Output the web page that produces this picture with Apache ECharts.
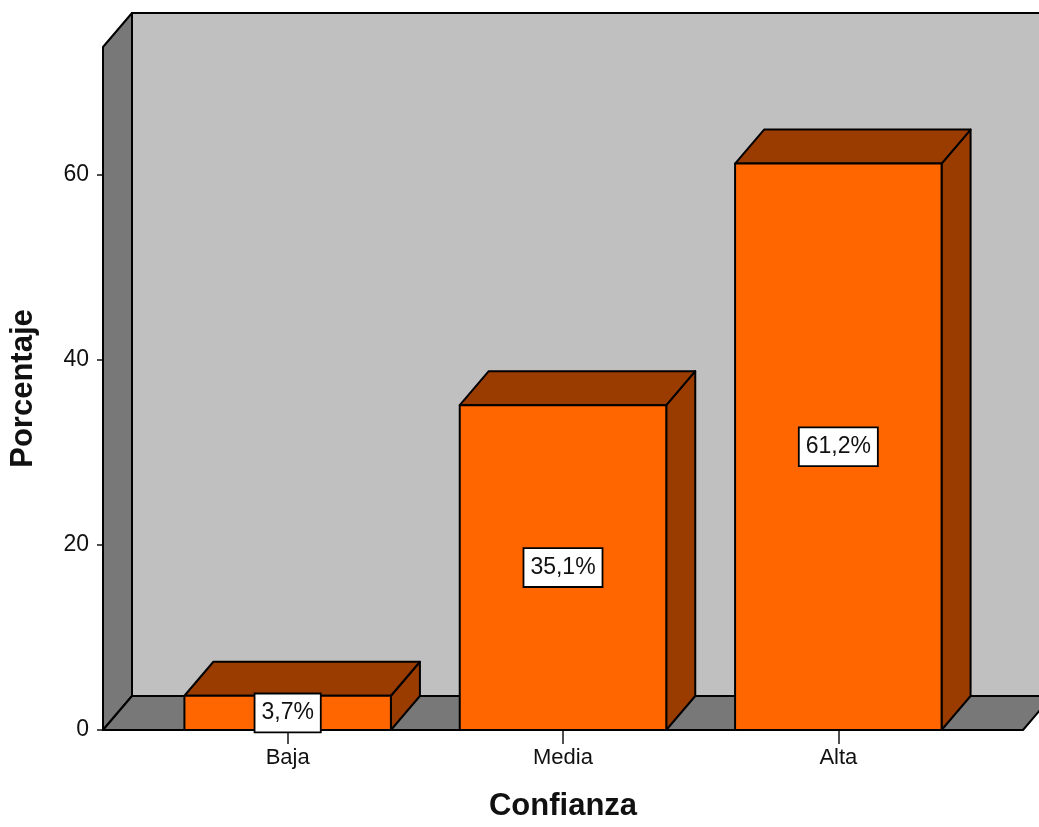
<!DOCTYPE html>
<html>
<head>
<meta charset="utf-8">
<script src="https://cdn.jsdelivr.net/npm/echarts@6/dist/echarts.min.js"></script>
<style>
  html, body { margin: 0; padding: 0; background: #ffffff; }
  #chart { width: 1039px; height: 827px; }
</style>
</head>
<body>
<div id="chart"></div>
<script>
// Confianza distribution (percentages)
const categorias = ['Baja', 'Media', 'Alta'];
const porcentajes = [3.7, 35.1, 61.2];
const ticksY = [0, 20, 40, 60];

const FONT = '"Liberation Sans", Arial, Helvetica, sans-serif';
const DEPTH = [29, -34];      // 3D depth offset (px) for walls and bars
const WALL_PAD = 47;          // how far the floor/walls reach beyond the category band
const BAR_RATIO = 0.75;       // bar width relative to category band

const FRONT = '#ff6600';
const SHADE = '#9a3c00';
const BACK_WALL = '#c0c0c0';
const SIDE_WALL = '#787878';
const EDGE = '#000000';

function fmt(v) {
  return v.toFixed(1).replace('.', ',') + '%';
}

// Back wall, left wall and floor of the 3D frame
function renderFrame(params, api) {
  const cs = params.coordSys;
  const dx = DEPTH[0], dy = DEPTH[1];
  const x0 = cs.x - WALL_PAD;
  const x1 = cs.x + cs.width + WALL_PAD;
  const yt = cs.y;
  const yb = cs.y + cs.height;
  const stroke = { stroke: EDGE, lineWidth: 2, lineJoin: 'round' };
  return {
    type: 'group',
    children: [
      {
        type: 'polygon',
        shape: { points: [[x0 + dx, yt + dy], [x1 + dx + 40, yt + dy], [x1 + dx + 40, yb + dy], [x0 + dx, yb + dy]] },
        style: Object.assign({ fill: BACK_WALL }, stroke)
      },
      {
        type: 'polygon',
        shape: { points: [[x0, yb], [x0, yt], [x0 + dx, yt + dy], [x0 + dx, yb + dy]] },
        style: Object.assign({ fill: SIDE_WALL }, stroke)
      },
      {
        type: 'polygon',
        shape: { points: [[x0, yb], [x0 + dx, yb + dy], [x1 + dx, yb + dy], [x1, yb]] },
        style: Object.assign({ fill: SIDE_WALL }, stroke)
      }
    ]
  };
}

// One 3D bar: front face, top face, right side and a boxed value label
function renderBar(params, api) {
  const i = api.value(0);
  const v = api.value(1);
  const top = api.coord([i, v]);
  const base = api.coord([i, 0]);
  const w = api.size([1, 0])[0] * BAR_RATIO;
  const xl = top[0] - w / 2, xr = top[0] + w / 2;
  const yt = top[1], yb = base[1];
  const dx = DEPTH[0], dy = DEPTH[1];
  const stroke = { stroke: EDGE, lineWidth: 2, lineJoin: 'round' };
  return {
    type: 'group',
    children: [
      {
        type: 'polygon',
        shape: { points: [[xr, yb], [xr, yt], [xr + dx, yt + dy], [xr + dx, yb + dy]] },
        style: Object.assign({ fill: SHADE }, stroke)
      },
      {
        type: 'polygon',
        shape: { points: [[xl, yt], [xl + dx, yt + dy], [xr + dx, yt + dy], [xr, yt]] },
        style: Object.assign({ fill: SHADE }, stroke)
      },
      {
        type: 'rect',
        shape: { x: xl, y: yt, width: w, height: yb - yt },
        style: Object.assign({ fill: FRONT }, stroke)
      },
      {
        type: 'text',
        x: top[0],
        y: (yt + yb) / 2,
        style: {
          text: fmt(v),
          align: 'center',
          verticalAlign: 'middle',
          fontFamily: FONT,
          fontSize: 23,
          fill: '#111',
          backgroundColor: '#ffffff',
          borderColor: '#000',
          borderWidth: 1.8,
          padding: [8, 6, 6, 6]
        }
      }
    ]
  };
}

const chart = echarts.init(document.getElementById('chart'), null, { renderer: 'canvas' });

chart.setOption({
  backgroundColor: '#ffffff',
  animation: false,
  grid: { left: 150, right: 63, top: 47, bottom: 95, containLabel: false },
  xAxis: {
    type: 'category',
    data: categorias,
    axisLine: { show: false },
    axisTick: { show: true, alignWithLabel: true, length: 14, lineStyle: { color: '#222', width: 1.6 } },
    axisLabel: { fontFamily: FONT, fontSize: 22, color: '#111', margin: 17 },
    splitLine: { show: false },
    name: 'Confianza',
    nameLocation: 'middle',
    nameGap: 61,
    nameTextStyle: { fontFamily: FONT, fontSize: 31, fontWeight: 'bold', color: '#111' }
  },
  yAxis: {
    type: 'value',
    min: 0,
    max: 73.8,
    offset: 47,
    axisLine: { show: false },
    axisTick: { show: true, length: 6, customValues: ticksY, lineStyle: { color: '#222', width: 1.6 } },
    axisLabel: { fontFamily: FONT, fontSize: 23, color: '#111', margin: 14, customValues: ticksY, padding: [4, 0, 0, 0] },
    splitLine: { show: false },
    name: 'Porcentaje',
    nameLocation: 'middle',
    nameRotate: 90,
    nameGap: 64,
    nameTextStyle: { fontFamily: FONT, fontSize: 31, fontWeight: 'bold', color: '#111' }
  },
  series: [
    {
      type: 'custom',
      z: 1,
      silent: true,
      renderItem: renderFrame,
      data: [[0, 0]]
    },
    {
      type: 'custom',
      z: 2,
      renderItem: renderBar,
      data: porcentajes.map((v, i) => [i, v])
    }
  ]
});
</script>
</body>
</html>
